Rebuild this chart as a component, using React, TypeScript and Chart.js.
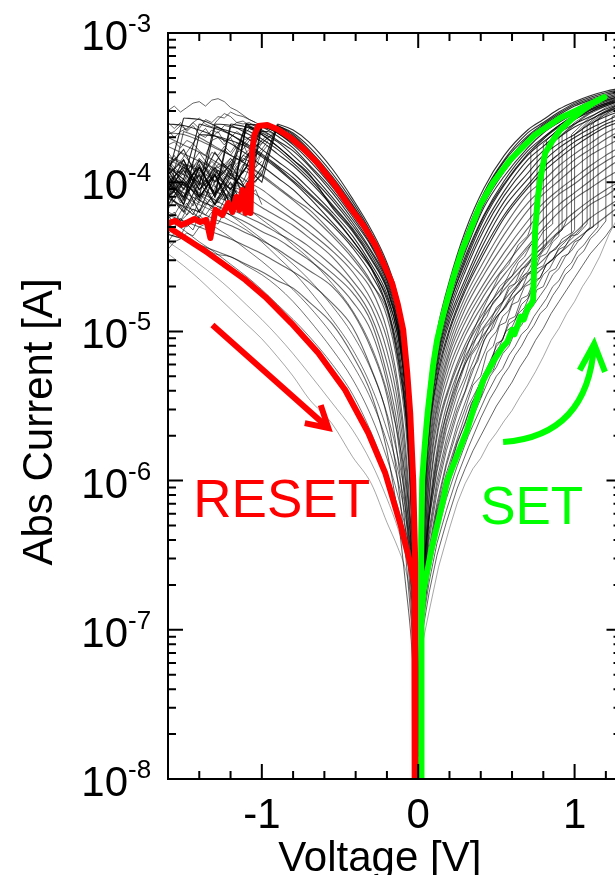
import React, { useEffect, useRef } from "react";
import { Chart, registerables } from "chart.js";

Chart.register(...registerables);

// ---------- axes ----------
const voltageMin = -1.6;
const voltageMax = 1.3;
const currentMin = 1e-8;
const currentMax = 1e-3;
const voltageTickLabels = [-1, 0, 1];
const voltageMinorTicks = [-1.4, -1.2, -0.8, -0.6, -0.4, -0.2, 0.2, 0.4, 0.6, 0.8, 1.2];
const currentDecades = [-3, -4, -5, -6, -7, -8];

// ---------- data: log10 of |I| (A) ----------
// RESET side, common voltage grid (V)
const resetGrid = [-1.6, -1.5, -1.4, -1.3, -1.2, -1.1, -1.0, -0.9, -0.8, -0.7, -0.55, -0.42, -0.3, -0.2, -0.13, -0.08, -0.05, -0.03, -0.015, -0.004];

// low-resistance-state sweeps up to reset, then noisy (darkest first)
const resetLrsCurves: number[][] = [
  [-4.08, -4.2, -4.0, -4.15, -3.95, -4.05, -3.9, -3.61, -3.65, -3.73, -3.91, -4.11, -4.32, -4.54, -4.77, -5.1, -5.48, -5.97, -6.65, -7.45],
  [-4.15, -4.0, -4.1, -3.95, -4.05, -3.9, -4.0, -3.62, -3.67, -3.76, -3.94, -4.13, -4.34, -4.56, -4.79, -5.13, -5.5, -6.0, -6.68, -7.47],
  [-3.92, -4.1, -3.85, -4.0, -3.88, -4.05, -3.95, -3.62, -3.68, -3.78, -3.96, -4.15, -4.35, -4.57, -4.81, -5.15, -5.52, -6.03, -6.7, -7.47],
  [-4.0, -4.1, -3.95, -4.15, -4.0, -4.2, -3.62, -3.63, -3.69, -3.79, -3.97, -4.16, -4.36, -4.58, -4.82, -5.17, -5.53, -6.04, -6.72, -7.48],
  [-3.86, -4.02, -3.9, -4.08, -3.92, -4.12, -3.61, -3.64, -3.72, -3.81, -3.99, -4.18, -4.37, -4.59, -4.83, -5.18, -5.56, -6.06, -6.74, -7.49],
  [-4.1, -3.98, -4.12, -3.92, -4.05, -3.9, -3.63, -3.66, -3.72, -3.82, -4.0, -4.19, -4.38, -4.6, -4.84, -5.2, -5.57, -6.08, -6.75, -7.5],
  [-4.0, -3.9, -4.05, -3.95, -4.2, -3.61, -3.62, -3.67, -3.74, -3.83, -4.02, -4.2, -4.39, -4.61, -4.85, -5.21, -5.59, -6.1, -6.77, -7.51],
  [-3.95, -3.85, -4.05, -3.9, -4.1, -3.85, -3.62, -3.67, -3.75, -3.85, -4.03, -4.21, -4.4, -4.62, -4.87, -5.23, -5.61, -6.12, -6.78, -7.52],
  [-3.9, -4.05, -3.88, -4.1, -3.9, -3.61, -3.63, -3.69, -3.77, -3.88, -4.05, -4.23, -4.42, -4.63, -4.88, -5.25, -5.64, -6.16, -6.79, -7.53],
  [-4.1, -4.0, -4.2, -3.95, -4.15, -3.63, -3.65, -3.72, -3.79, -3.89, -4.07, -4.25, -4.43, -4.65, -4.9, -5.28, -5.67, -6.17, -6.83, -7.55],
  [-4.05, -3.92, -4.1, -3.95, -4.15, -3.62, -3.67, -3.73, -3.82, -3.92, -4.1, -4.27, -4.46, -4.66, -4.93, -5.3, -5.71, -6.23, -6.84, -7.55],
  [-3.95, -4.12, -3.9, -4.08, -3.61, -3.63, -3.68, -3.76, -3.85, -3.95, -4.12, -4.29, -4.47, -4.68, -4.95, -5.33, -5.75, -6.27, -6.86, -7.56],
  [-3.95, -4.15, -3.9, -4.1, -3.63, -3.65, -3.71, -3.78, -3.87, -3.97, -4.15, -4.31, -4.49, -4.7, -4.97, -5.36, -5.78, -6.29, -6.88, -7.57],
  [-4.1, -3.88, -4.02, -3.61, -3.62, -3.67, -3.73, -3.81, -3.89, -3.99, -4.16, -4.32, -4.51, -4.71, -4.98, -5.38, -5.81, -6.33, -6.9, -7.58],
  [-3.9, -3.78, -4.0, -3.8, -3.95, -3.61, -3.68, -3.76, -3.85, -3.94, -4.17, -4.33, -4.52, -4.72, -4.99, -5.39, -5.83, -6.35, -6.89, -7.59],
  [-4.0, -4.15, -3.68, -3.69, -3.72, -3.76, -3.83, -3.91, -4.0, -4.1, -4.27, -4.42, -4.58, -4.77, -5.02, -5.4, -5.84, -6.35, -6.9, -7.59],
  [-4.05, -3.85, -4.1, -3.63, -3.66, -3.7, -3.78, -3.86, -3.94, -4.04, -4.2, -4.36, -4.55, -4.75, -5.03, -5.42, -5.88, -6.4, -6.94, -7.6],
  [-3.9, -3.98, -3.61, -3.64, -3.68, -3.75, -3.82, -3.9, -3.99, -4.08, -4.23, -4.39, -4.57, -4.79, -5.08, -5.48, -5.93, -6.45, -6.97, -7.62],
  [-3.95, -3.57, -3.58, -3.62, -3.68, -3.74, -3.81, -3.89, -3.97, -4.07, -4.22, -4.39, -4.58, -4.83, -5.13, -5.52, -5.98, -6.5, -7.0, -7.65],
  [-3.61, -3.62, -3.65, -3.69, -3.74, -3.81, -3.89, -3.97, -4.05, -4.15, -4.29, -4.44, -4.62, -4.84, -5.17, -5.55, -6.01, -6.53, -7.02, -7.65],
  [-3.67, -3.68, -3.72, -3.77, -3.82, -3.88, -3.96, -4.04, -4.12, -4.21, -4.36, -4.51, -4.68, -4.86, -5.19, -5.57, -6.05, -6.56, -7.04, -7.7],
  [-4.1, -3.66, -3.7, -3.76, -3.82, -3.88, -3.95, -4.03, -4.11, -4.18, -4.34, -4.49, -4.67, -4.9, -5.23, -5.64, -6.1, -6.62, -7.09, -7.7],
  [-3.7, -3.75, -3.8, -3.86, -3.92, -3.99, -4.05, -4.13, -4.21, -4.28, -4.42, -4.56, -4.72, -4.99, -5.35, -5.78, -6.25, -6.73, -7.15, -7.78],
  [-3.76, -3.81, -3.86, -3.91, -3.97, -4.04, -4.11, -4.18, -4.25, -4.33, -4.46, -4.6, -4.79, -5.05, -5.4, -5.85, -6.34, -6.79, -7.2, -7.8],
  [-3.83, -3.88, -3.92, -3.99, -4.04, -4.1, -4.17, -4.23, -4.29, -4.37, -4.5, -4.66, -4.84, -5.13, -5.48, -5.94, -6.4, -6.85, -7.25, -7.85],
  [-3.9, -3.95, -4.0, -4.06, -4.11, -4.18, -4.23, -4.29, -4.36, -4.43, -4.56, -4.7, -4.9, -5.21, -5.56, -6.04, -6.52, -6.91, -7.3, -7.85],
  [-3.98, -4.02, -4.07, -4.12, -4.18, -4.23, -4.28, -4.34, -4.4, -4.48, -4.61, -4.74, -4.94, -5.29, -5.65, -6.14, -6.6, -6.96, -7.37, -7.9],
  [-4.02, -4.07, -4.12, -4.17, -4.22, -4.27, -4.33, -4.38, -4.45, -4.52, -4.65, -4.8, -5.0, -5.34, -5.72, -6.21, -6.67, -7.0, -7.4, -7.9],
  [-4.11, -4.16, -4.2, -4.25, -4.29, -4.34, -4.39, -4.45, -4.52, -4.59, -4.7, -4.87, -5.12, -5.43, -5.85, -6.35, -6.77, -7.1, -7.45, -7.9],
  [-4.22, -4.26, -4.3, -4.34, -4.38, -4.43, -4.48, -4.54, -4.6, -4.67, -4.81, -4.97, -5.25, -5.57, -6.01, -6.5, -6.87, -7.16, -7.52, -8.0],
  [-4.35, -4.38, -4.42, -4.46, -4.5, -4.55, -4.6, -4.66, -4.71, -4.8, -4.95, -5.16, -5.42, -5.8, -6.24, -6.7, -7.0, -7.3, -7.6, -8.1],
];

// high-resistance-state return sweeps (faintest first)
const resetHrsCurves: number[][] = [
  [-4.48, -4.56, -4.65, -4.75, -4.85, -4.95, -5.05, -5.17, -5.3, -5.45, -5.62, -5.84, -6.02, -6.28, -6.45, -6.6, -6.75, -6.85, -7.0, -7.4],
  [-4.4, -4.47, -4.55, -4.63, -4.72, -4.82, -4.92, -5.03, -5.15, -5.28, -5.48, -5.66, -5.88, -6.12, -6.32, -6.5, -6.65, -6.78, -6.95, -7.4],
  [-4.25, -4.32, -4.4, -4.47, -4.55, -4.63, -4.72, -4.82, -4.92, -5.03, -5.22, -5.42, -5.68, -5.95, -6.18, -6.38, -6.55, -6.7, -6.9, -7.4],
  [-4.35, -4.38, -4.42, -4.48, -4.5, -4.56, -4.62, -4.7, -4.8, -4.92, -5.12, -5.32, -5.57, -5.85, -6.1, -6.33, -6.5, -6.66, -6.88, -7.4],
  [-4.1, -4.17, -4.24, -4.3, -4.37, -4.45, -4.53, -4.62, -4.72, -4.83, -5.02, -5.22, -5.46, -5.74, -6.0, -6.25, -6.45, -6.62, -6.85, -7.4],
  [-4.05, -4.1, -4.15, -4.2, -4.26, -4.32, -4.4, -4.5, -4.6, -4.72, -4.92, -5.12, -5.37, -5.66, -5.93, -6.2, -6.42, -6.6, -6.83, -7.4],
  [-3.95, -4.02, -4.08, -4.15, -4.22, -4.3, -4.38, -4.46, -4.55, -4.65, -4.83, -5.02, -5.26, -5.55, -5.84, -6.12, -6.36, -6.56, -6.8, -7.4],
  [-3.85, -3.9, -3.97, -4.03, -4.1, -4.17, -4.25, -4.33, -4.42, -4.51, -4.68, -4.86, -5.1, -5.4, -5.7, -6.0, -6.27, -6.5, -6.76, -7.4],
];

// noisy currents after reset
const cloudGrid = [-1.6, -1.56, -1.52, -1.48, -1.44, -1.4, -1.36, -1.32, -1.28, -1.24, -1.2, -1.16, -1.12, -1.08, -1.04, -1.0, -0.96, -0.92];
const cloudCurves: (number | null)[][] = [
  [-3.52, -3.49, -3.53, -3.5, -3.47, -3.46, -3.49, -3.45, -3.44, -3.46, -3.5, -3.52, -3.55, -3.58, -3.6, -3.62, -3.64, -3.66],
  [-3.68, -3.66, -3.62, -3.65, -3.6, -3.57, -3.61, -3.63, -3.58, -3.54, -3.56, -3.6, -3.59, -3.62, -3.64, null, null, null],
  [-3.9, -3.84, -3.86, -3.8, -3.74, -3.79, -3.82, -3.72, -3.7, -3.75, -3.7, -3.66, -3.69, -3.64, -3.66, -3.65, null, null],
  [-4.05, -3.97, -4.02, -4.06, -3.94, -3.9, -3.96, -3.9, -3.84, -3.88, -3.92, -3.8, -3.78, -3.72, -3.7, null, null, null],
  [-4.15, -4.12, -4.05, -4.1, -4.16, -4.02, -3.98, -4.04, -3.95, -3.92, -3.98, -3.9, -3.94, -3.85, -3.9, -3.8, -3.75, null],
  [-4.3, -4.24, -4.26, -4.18, -4.22, -4.12, -4.15, -4.1, -4.06, -4.12, -4.04, -3.96, -4.0, -3.9, null, null, null, null],
  [-3.8, -3.86, -3.8, -3.84, -3.9, -3.86, -3.92, -3.98, -3.92, -3.96, -4.02, -4.0, -4.06, -4.1, -4.05, -4.15, null, null],
  [-4.0, -4.06, -3.98, -4.02, -3.94, -3.96, -3.9, -3.94, -3.88, -3.9, -3.84, -3.88, -3.82, -3.84, -3.77, -3.72, -3.68, null],
  [-4.4, -4.34, -4.36, -4.28, -4.32, -4.22, -4.26, -4.2, -4.16, -4.18, -4.12, -4.05, null, null, null, null, null, null],
  [-3.6, -3.64, -3.6, -3.66, -3.62, -3.68, -3.64, -3.7, -3.66, -3.73, -3.7, -3.78, -3.74, -3.84, null, null, null, null],
  [-4.2, -4.22, -4.15, -4.18, -4.1, -4.14, -4.06, -4.08, -4.0, -4.04, -3.97, -3.99, -3.92, -3.94, -3.86, -3.8, null, null],
  [-3.75, -3.73, -3.77, -3.72, -3.74, -3.68, -3.7, -3.65, -3.67, -3.62, -3.63, -3.6, -3.61, -3.6, -3.63, -3.66, -3.68, null],
  [-4.1, -4.04, -4.08, -4.0, -3.98, -3.96, -4.02, -3.92, -3.9, -3.88, -3.92, -3.84, -3.86, -3.8, -3.8, -3.74, -3.7, -3.68],
  [-3.65, -3.7, -3.66, -3.64, -3.6, -3.64, -3.58, -3.6, -3.56, -3.57, -3.53, -3.55, -3.56, -3.58, -3.6, null, null, null],
  [-4.25, -4.2, -4.26, -4.22, -4.18, -4.2, -4.14, -4.16, -4.1, -4.12, -4.06, -4.04, -4.06, -3.98, -4.0, -3.92, null, null],
  [-3.95, -3.9, -3.94, -3.88, -3.9, -3.84, -3.88, -3.8, -3.82, -3.76, -3.8, -3.74, -3.75, -3.7, -3.7, -3.66, -3.66, -3.68],
  [-4.45, -4.4, -4.38, -4.34, -4.36, -4.3, -4.28, -4.26, -4.28, -4.2, -4.22, null, null, null, null, null, null, null],
  [-3.85, -3.9, -3.86, -3.92, -3.88, -3.94, -3.9, -3.96, -3.92, -3.98, -3.94, -3.96, -3.88, -3.9, -3.82, -3.78, -3.72, null],
  [-3.98, -4.04, -3.96, -3.92, -4.0, -3.94, -3.86, -3.9, -3.96, -3.88, -3.84, -3.9, -3.82, -3.78, -3.76, -3.72, null, null],
  [-4.12, -4.06, -4.14, -4.08, -4.02, -4.1, -4.04, -3.98, -4.06, -4.0, -3.94, -4.0, -3.92, -3.88, null, null, null, null],
  [-4.22, -4.28, -4.2, -4.14, -4.2, -4.24, -4.16, -4.1, -4.14, -4.08, -4.12, -4.02, -4.06, -3.98, -3.94, null, null, null],
  [-3.88, -3.82, -3.9, -3.94, -3.86, -3.8, -3.86, -3.92, -3.84, -3.78, -3.82, -3.76, -3.72, -3.7, -3.68, -3.66, -3.66, null],
  [-4.35, -4.3, -4.24, -4.3, -4.26, -4.18, -4.22, -4.16, -4.2, -4.12, -4.08, -4.14, -4.04, null, null, null, null, null],
  [-4.02, -3.96, -3.92, -3.98, -4.04, -3.98, -3.92, -3.86, -3.9, -3.94, -3.86, -3.82, -3.86, -3.8, -3.76, -3.74, -3.7, -3.67],
  [-3.92, -3.98, -4.04, -3.96, -3.9, -3.95, -4.0, -3.94, -3.98, -3.9, -3.86, -3.92, -3.84, -3.86, -3.8, null, null, null],
  [-4.18, -4.12, -4.16, -4.22, -4.14, -4.08, -4.12, -4.18, -4.1, -4.04, -4.08, -4.0, -4.02, -3.96, -3.9, -3.86, null, null],
];

// SET side, common voltage grid (V) for LRS return sweeps
const setGrid = [0.004, 0.015, 0.03, 0.05, 0.08, 0.13, 0.2, 0.3, 0.42, 0.55, 0.7, 0.8, 0.9, 1.0, 1.1, 1.2, 1.3];
const setLrsCurves: number[][] = [
  [-7.46, -6.52, -5.93, -5.56, -5.26, -4.95, -4.66, -4.33, -4.04, -3.82, -3.65, -3.58, -3.51, -3.46, -3.42, -3.39, -3.37],
  [-7.47, -6.55, -5.95, -5.58, -5.28, -4.97, -4.68, -4.36, -4.07, -3.85, -3.67, -3.6, -3.53, -3.47, -3.43, -3.4, -3.38],
  [-7.48, -6.56, -5.97, -5.59, -5.3, -4.99, -4.69, -4.38, -4.08, -3.86, -3.69, -3.61, -3.54, -3.48, -3.44, -3.41, -3.39],
  [-7.49, -6.58, -5.98, -5.6, -5.31, -5.0, -4.71, -4.4, -4.1, -3.89, -3.7, -3.62, -3.55, -3.49, -3.45, -3.42, -3.39],
  [-7.5, -6.6, -6.0, -5.62, -5.33, -5.02, -4.73, -4.42, -4.12, -3.9, -3.72, -3.63, -3.57, -3.51, -3.46, -3.43, -3.4],
  [-7.51, -6.63, -6.03, -5.64, -5.35, -5.04, -4.75, -4.45, -4.15, -3.93, -3.74, -3.65, -3.59, -3.53, -3.48, -3.44, -3.41],
  [-7.52, -6.66, -6.05, -5.66, -5.37, -5.06, -4.77, -4.47, -4.17, -3.96, -3.77, -3.67, -3.6, -3.54, -3.49, -3.45, -3.42],
  [-7.54, -6.7, -6.07, -5.69, -5.39, -5.07, -4.79, -4.5, -4.22, -3.99, -3.79, -3.7, -3.62, -3.56, -3.51, -3.47, -3.43],
  [-7.55, -6.73, -6.1, -5.72, -5.41, -5.09, -4.82, -4.52, -4.23, -4.01, -3.81, -3.71, -3.63, -3.58, -3.52, -3.48, -3.45],
  [-7.55, -6.75, -6.1, -5.72, -5.42, -5.1, -4.82, -4.54, -4.25, -4.02, -3.82, -3.73, -3.65, -3.58, -3.53, -3.49, -3.45],
  [-7.57, -6.8, -6.15, -5.75, -5.44, -5.13, -4.85, -4.57, -4.29, -4.06, -3.85, -3.76, -3.67, -3.61, -3.56, -3.51, -3.47],
  [-7.58, -6.82, -6.19, -5.78, -5.47, -5.15, -4.88, -4.6, -4.32, -4.09, -3.89, -3.79, -3.7, -3.63, -3.58, -3.53, -3.49],
  [-7.6, -6.88, -6.25, -5.82, -5.5, -5.18, -4.91, -4.65, -4.37, -4.13, -3.94, -3.82, -3.74, -3.68, -3.61, -3.56, -3.52],
  [-7.62, -6.9, -6.28, -5.86, -5.53, -5.21, -4.94, -4.68, -4.41, -4.17, -3.98, -3.86, -3.77, -3.7, -3.64, -3.59, -3.54],
  [-7.63, -6.93, -6.32, -5.9, -5.57, -5.25, -4.98, -4.71, -4.45, -4.22, -4.02, -3.9, -3.81, -3.73, -3.67, -3.61, -3.57],
  [-7.65, -6.95, -6.35, -5.92, -5.58, -5.28, -5.0, -4.73, -4.48, -4.24, -4.04, -3.93, -3.84, -3.76, -3.69, -3.63, -3.59],
  [-7.67, -7.0, -6.4, -5.97, -5.62, -5.32, -5.04, -4.77, -4.53, -4.3, -4.08, -3.99, -3.89, -3.81, -3.74, -3.67, -3.62],
  [-7.7, -7.02, -6.46, -6.02, -5.67, -5.36, -5.08, -4.81, -4.58, -4.35, -4.14, -4.04, -3.94, -3.85, -3.78, -3.71, -3.65],
  [-7.72, -7.08, -6.52, -6.06, -5.71, -5.4, -5.12, -4.85, -4.62, -4.41, -4.19, -4.08, -3.99, -3.9, -3.82, -3.76, -3.7],
  [-7.75, -7.12, -6.58, -6.13, -5.76, -5.44, -5.15, -4.9, -4.68, -4.47, -4.26, -4.14, -4.05, -3.97, -3.89, -3.82, -3.76],
  [-7.76, -7.15, -6.63, -6.17, -5.8, -5.47, -5.19, -4.94, -4.72, -4.52, -4.31, -4.18, -4.08, -4.01, -3.93, -3.86, -3.8],
  [-7.78, -7.2, -6.7, -6.26, -5.86, -5.51, -5.24, -4.99, -4.76, -4.57, -4.37, -4.25, -4.15, -4.07, -3.99, -3.91, -3.84],
  [-7.8, -7.25, -6.78, -6.3, -5.9, -5.56, -5.29, -5.03, -4.81, -4.62, -4.43, -4.31, -4.2, -4.11, -4.04, -3.97, -3.91],
  [-7.85, -7.32, -6.85, -6.38, -5.98, -5.62, -5.36, -5.09, -4.87, -4.69, -4.51, -4.4, -4.29, -4.2, -4.12, -4.05, -3.99],
  [-7.85, -7.34, -6.88, -6.42, -6.01, -5.65, -5.38, -5.12, -4.9, -4.72, -4.54, -4.43, -4.33, -4.24, -4.15, -4.09, -4.02],
  [-7.9, -7.4, -6.95, -6.5, -6.1, -5.73, -5.43, -5.17, -4.97, -4.79, -4.62, -4.52, -4.42, -4.34, -4.24, -4.17, -4.1],
  [-7.9, -7.45, -7.0, -6.57, -6.15, -5.77, -5.49, -5.22, -5.02, -4.84, -4.67, -4.57, -4.48, -4.39, -4.31, -4.23, -4.15],
];

// SET sweeps as (V, log10 I) pairs: HRS rise, abrupt set, LRS
const setHrsCurves: number[][] = [
  [0.004, -7.3, 0.03, -6.6, 0.07, -6.2, 0.12, -5.85, 0.18, -5.55, 0.25, -5.3, 0.32, -5.08, 0.4, -4.88, 0.46, -4.75, 0.52, -4.62, 0.58, -4.55, 0.64, -4.42, 0.7, -4.36, 0.72, -4.3, 0.72, -3.8, 0.8, -3.7, 0.9, -3.62, 1.0, -3.55, 1.1, -3.5, 1.2, -3.46, 1.3, -3.43],
  [0.004, -7.3, 0.03, -6.62, 0.07, -6.22, 0.12, -5.88, 0.18, -5.6, 0.25, -5.35, 0.3, -5.2, 0.35, -5.06, 0.4, -4.94, 0.44, -4.84, 0.48, -4.78, 0.52, -4.7, 0.56, -4.66, 0.6, -4.58, 0.64, -4.52, 0.68, -4.47, 0.72, -4.42, 0.76, -4.38, 0.76, -3.76, 0.85, -3.66, 0.95, -3.58, 1.05, -3.52, 1.15, -3.47, 1.3, -3.42],
  [0.004, -7.32, 0.03, -6.64, 0.07, -6.26, 0.12, -5.94, 0.18, -5.66, 0.25, -5.42, 0.3, -5.3, 0.34, -5.16, 0.38, -5.1, 0.42, -4.98, 0.46, -4.94, 0.5, -4.84, 0.54, -4.8, 0.58, -4.7, 0.62, -4.68, 0.66, -4.58, 0.7, -4.56, 0.74, -4.48, 0.8, -4.44, 0.8, -3.74, 0.88, -3.66, 1.0, -3.57, 1.15, -3.49, 1.3, -3.44],
  [0.004, -7.35, 0.03, -6.7, 0.07, -6.33, 0.12, -6.0, 0.18, -5.72, 0.25, -5.48, 0.32, -5.28, 0.4, -5.08, 0.46, -4.95, 0.52, -4.85, 0.58, -4.72, 0.64, -4.66, 0.7, -4.55, 0.76, -4.5, 0.82, -4.42, 0.82, -3.72, 0.9, -3.64, 1.0, -3.56, 1.1, -3.5, 1.2, -3.46, 1.3, -3.42],
  [0.004, -7.35, 0.03, -6.65, 0.07, -6.25, 0.12, -5.92, 0.18, -5.62, 0.25, -5.38, 0.3, -5.22, 0.35, -5.1, 0.4, -4.96, 0.44, -4.9, 0.48, -4.8, 0.52, -4.76, 0.56, -4.66, 0.6, -4.63, 0.64, -4.54, 0.68, -4.5, 0.72, -4.42, 0.76, -4.4, 0.8, -4.33, 0.86, -4.28, 0.86, -3.7, 0.95, -3.61, 1.05, -3.54, 1.15, -3.49, 1.3, -3.44],
  [0.004, -7.4, 0.03, -6.8, 0.07, -6.45, 0.12, -6.15, 0.18, -5.88, 0.25, -5.62, 0.32, -5.42, 0.4, -5.2, 0.46, -5.05, 0.5, -5.0, 0.54, -4.9, 0.58, -4.86, 0.62, -4.76, 0.66, -4.72, 0.7, -4.62, 0.74, -4.6, 0.78, -4.5, 0.82, -4.48, 0.86, -4.4, 0.9, -4.36, 0.9, -3.7, 1.0, -3.6, 1.1, -3.53, 1.2, -3.48, 1.3, -3.45],
  [0.004, -7.38, 0.03, -6.72, 0.07, -6.36, 0.12, -6.04, 0.18, -5.76, 0.25, -5.52, 0.3, -5.4, 0.34, -5.26, 0.38, -5.2, 0.42, -5.06, 0.46, -5.0, 0.5, -4.9, 0.54, -4.86, 0.58, -4.78, 0.62, -4.72, 0.66, -4.64, 0.7, -4.6, 0.74, -4.52, 0.78, -4.48, 0.82, -4.42, 0.86, -4.38, 0.92, -4.32, 0.92, -3.68, 1.0, -3.61, 1.1, -3.54, 1.2, -3.49, 1.3, -3.45],
  [0.004, -7.4, 0.03, -6.75, 0.07, -6.4, 0.12, -6.08, 0.18, -5.8, 0.25, -5.55, 0.32, -5.35, 0.4, -5.12, 0.44, -5.02, 0.48, -4.98, 0.52, -4.88, 0.56, -4.84, 0.6, -4.75, 0.64, -4.7, 0.68, -4.62, 0.72, -4.6, 0.76, -4.52, 0.8, -4.46, 0.84, -4.42, 0.88, -4.35, 0.92, -4.32, 0.95, -4.25, 0.95, -3.66, 1.05, -3.57, 1.15, -3.5, 1.3, -3.44],
  [0.004, -7.42, 0.03, -6.8, 0.07, -6.48, 0.12, -6.18, 0.18, -5.9, 0.25, -5.66, 0.3, -5.52, 0.35, -5.36, 0.4, -5.3, 0.44, -5.14, 0.48, -5.1, 0.52, -4.96, 0.56, -4.94, 0.6, -4.82, 0.64, -4.8, 0.68, -4.7, 0.72, -4.68, 0.76, -4.58, 0.8, -4.56, 0.84, -4.47, 0.88, -4.45, 0.92, -4.38, 0.98, -4.34, 0.98, -3.68, 1.08, -3.58, 1.2, -3.5, 1.3, -3.46],
  [0.004, -7.45, 0.03, -6.88, 0.07, -6.55, 0.12, -6.25, 0.18, -6.0, 0.25, -5.75, 0.32, -5.55, 0.4, -5.33, 0.46, -5.2, 0.5, -5.1, 0.54, -5.05, 0.58, -4.95, 0.62, -4.92, 0.66, -4.82, 0.7, -4.78, 0.74, -4.68, 0.78, -4.64, 0.82, -4.55, 0.86, -4.52, 0.9, -4.44, 0.94, -4.4, 1.0, -4.32, 1.0, -3.68, 1.1, -3.58, 1.2, -3.52, 1.3, -3.47],
  [0.004, -7.45, 0.03, -6.85, 0.07, -6.5, 0.12, -6.2, 0.18, -5.95, 0.25, -5.72, 0.32, -5.5, 0.38, -5.38, 0.44, -5.25, 0.48, -5.16, 0.52, -5.1, 0.56, -5.0, 0.6, -4.97, 0.64, -4.88, 0.68, -4.84, 0.72, -4.74, 0.76, -4.7, 0.8, -4.62, 0.84, -4.58, 0.88, -4.5, 0.92, -4.46, 0.96, -4.4, 1.0, -4.36, 1.05, -4.3, 1.05, -3.64, 1.15, -3.55, 1.3, -3.47],
  [0.004, -7.46, 0.03, -6.86, 0.07, -6.52, 0.12, -6.22, 0.18, -5.98, 0.25, -5.74, 0.3, -5.62, 0.34, -5.48, 0.38, -5.42, 0.42, -5.28, 0.46, -5.24, 0.5, -5.08, 0.54, -5.06, 0.58, -4.92, 0.62, -4.9, 0.66, -4.78, 0.7, -4.76, 0.74, -4.66, 0.78, -4.64, 0.82, -4.55, 0.86, -4.52, 0.9, -4.45, 0.94, -4.43, 0.98, -4.36, 1.02, -4.35, 1.08, -4.28, 1.08, -3.62, 1.18, -3.54, 1.3, -3.47],
  [0.004, -7.45, 0.03, -6.9, 0.07, -6.6, 0.12, -6.32, 0.18, -6.08, 0.25, -5.85, 0.32, -5.65, 0.4, -5.45, 0.46, -5.3, 0.5, -5.24, 0.54, -5.15, 0.58, -5.1, 0.62, -5.0, 0.66, -4.96, 0.7, -4.88, 0.74, -4.82, 0.78, -4.76, 0.82, -4.7, 0.86, -4.62, 0.9, -4.58, 0.94, -4.5, 0.98, -4.46, 1.02, -4.4, 1.06, -4.35, 1.1, -4.3, 1.1, -3.62, 1.2, -3.54, 1.3, -3.48],
  [0.004, -7.48, 0.03, -6.9, 0.07, -6.58, 0.12, -6.28, 0.18, -6.04, 0.25, -5.8, 0.3, -5.66, 0.35, -5.52, 0.4, -5.44, 0.44, -5.3, 0.48, -5.26, 0.52, -5.14, 0.56, -5.1, 0.6, -4.98, 0.64, -4.95, 0.68, -4.85, 0.72, -4.82, 0.76, -4.72, 0.8, -4.7, 0.84, -4.6, 0.88, -4.58, 0.92, -4.5, 0.96, -4.48, 1.0, -4.4, 1.04, -4.38, 1.08, -4.32, 1.12, -4.3, 1.12, -3.6, 1.2, -3.53, 1.3, -3.48],
  [0.004, -7.5, 0.03, -6.92, 0.07, -6.62, 0.12, -6.36, 0.18, -6.12, 0.25, -5.9, 0.32, -5.7, 0.38, -5.56, 0.44, -5.42, 0.5, -5.3, 0.54, -5.25, 0.58, -5.16, 0.62, -5.1, 0.66, -5.02, 0.7, -4.98, 0.74, -4.9, 0.78, -4.84, 0.82, -4.78, 0.86, -4.7, 0.9, -4.66, 0.94, -4.58, 0.98, -4.54, 1.02, -4.46, 1.06, -4.42, 1.1, -4.36, 1.15, -4.3, 1.15, -3.58, 1.22, -3.53, 1.3, -3.49],
  [0.004, -7.5, 0.03, -6.95, 0.07, -6.68, 0.12, -6.42, 0.18, -6.2, 0.25, -5.97, 0.32, -5.78, 0.4, -5.58, 0.46, -5.45, 0.5, -5.38, 0.54, -5.3, 0.58, -5.24, 0.62, -5.16, 0.66, -5.1, 0.7, -5.02, 0.74, -4.96, 0.78, -4.88, 0.82, -4.84, 0.86, -4.76, 0.9, -4.7, 0.94, -4.62, 0.98, -4.58, 1.02, -4.5, 1.06, -4.46, 1.1, -4.38, 1.14, -4.34, 1.2, -4.26, 1.2, -3.55, 1.3, -3.5],
  [0.004, -7.52, 0.03, -7.0, 0.07, -6.75, 0.12, -6.5, 0.18, -6.28, 0.25, -6.05, 0.3, -5.92, 0.35, -5.8, 0.4, -5.7, 0.45, -5.6, 0.5, -5.5, 0.55, -5.42, 0.6, -5.34, 0.65, -5.24, 0.7, -5.16, 0.75, -5.06, 0.8, -4.98, 0.85, -4.88, 0.9, -4.8, 0.95, -4.72, 1.0, -4.64, 1.05, -4.56, 1.1, -4.48, 1.15, -4.42, 1.2, -4.36, 1.24, -4.3, 1.24, -3.56, 1.3, -3.53],
  [0.004, -7.55, 0.03, -7.08, 0.065, -6.9, 0.13, -6.58, 0.2, -6.32, 0.25, -6.15, 0.3, -6.02, 0.35, -5.92, 0.4, -5.85, 0.45, -5.75, 0.5, -5.68, 0.55, -5.6, 0.6, -5.53, 0.65, -5.44, 0.7, -5.36, 0.75, -5.27, 0.8, -5.17, 0.85, -5.06, 0.9, -4.98, 0.95, -4.88, 1.0, -4.8, 1.05, -4.7, 1.1, -4.62, 1.16, -4.5, 1.22, -4.35, 1.26, -4.27, 1.3, -4.2],
];

// highlighted cycles (V, log10 I) in sweep order
const resetCycle = [
  -0.019, -8.3, -0.019, -6.55, -0.032, -6.0, -0.051, -5.55, -0.07, -5.28, -0.096, -4.99, -0.13, -4.82, -0.166, -4.68, -0.22, -4.55,
  -0.275, -4.42, -0.35, -4.29, -0.435, -4.17, -0.54, -4.01, -0.645, -3.87, -0.73, -3.78, -0.818, -3.7, -0.9, -3.645, -0.965, -3.617,
  -1.022, -3.623, -1.048, -3.684, -1.061, -3.784, -1.073, -4.206, -1.086, -4.019, -1.105, -4.206, -1.125, -4.052, -1.144, -4.186,
  -1.163, -4.099, -1.188, -4.2, -1.214, -4.139, -1.252, -4.22, -1.297, -4.186, -1.329, -4.374, -1.355, -4.253, -1.393, -4.267,
  -1.431, -4.247, -1.47, -4.267, -1.514, -4.287, -1.553, -4.26, -1.597, -4.273, -1.6, -4.3, -1.35, -4.47, -1.105, -4.655,
  -0.978, -4.769, -0.812, -4.944, -0.639, -5.145, -0.467, -5.393, -0.319, -5.681, -0.211, -5.949, -0.109, -6.311, -0.045, -6.579,
  -0.025, -6.7, -0.022, -8.3,
];
const setCycle = [
  0.021, -8.3, 0.021, -6.95, 0.032, -6.75, 0.083, -6.47, 0.16, -6.13, 0.185, -6.0, 0.25, -5.83, 0.313, -5.66, 0.36, -5.5, 0.415, -5.33,
  0.48, -5.2, 0.543, -5.1, 0.57, -5.07, 0.6, -4.99, 0.615, -5.02, 0.633, -4.97, 0.655, -4.9, 0.675, -4.92, 0.703, -4.836, 0.72, -4.82,
  0.735, -4.79, 0.748, -4.32, 0.765, -4.1, 0.78, -3.985, 0.812, -3.804, 0.86, -3.72, 0.907, -3.65, 0.98, -3.58, 1.054, -3.516,
  1.12, -3.47, 1.19, -3.43, 1.05, -3.5, 0.907, -3.57, 0.75, -3.68, 0.588, -3.85, 0.48, -4.0, 0.396, -4.153, 0.33, -4.33, 0.281, -4.454,
  0.23, -4.62, 0.185, -4.789, 0.15, -4.93, 0.121, -5.058, 0.095, -5.23, 0.077, -5.393, 0.06, -5.55, 0.045, -5.728, 0.035, -5.86,
  0.026, -5.996, 0.019, -6.398, 0.019, -8.3,
];

// annotations in data coordinates (V, log10 I)
const resetLabel = { text: "RESET", v: -1.438, logI: -6.244 };
const setLabel = { text: "SET", v: 0.396, logI: -6.291 };
const resetArrow = { from: [-1.316, -4.957], to: [-0.575, -5.647] };
const setArrow = { from: [0.543, -5.741], ctrl: [1.086, -5.701], to: [1.125, -5.084] };

const FONT = "Arial, 'Liberation Sans', Helvetica, sans-serif";
const RED = "#ff0000";
const GREEN = "#00ff00";

type Pt = { x: number; y: number };

function gridPoints(grid: number[], logs: (number | null)[]) {
  const out: Pt[] = [];
  grid.forEach((v, i) => {
    const l = logs[i];
    if (l !== null && l !== undefined) out.push({ x: v, y: Math.pow(10, l) });
  });
  return out;
}
function pairPoints(flat: number[]) {
  const out: Pt[] = [];
  for (let i = 0; i < flat.length; i += 2) out.push({ x: flat[i], y: Math.pow(10, flat[i + 1]) });
  return out;
}

function drawArrowHead(ctx: CanvasRenderingContext2D, tip: [number, number], dir: [number, number], len: number, ang: number) {
  const back = Math.atan2(-dir[1], -dir[0]);
  ctx.beginPath();
  ctx.moveTo(tip[0] + len * Math.cos(back + ang), tip[1] + len * Math.sin(back + ang));
  ctx.lineTo(tip[0], tip[1]);
  ctx.lineTo(tip[0] + len * Math.cos(back - ang), tip[1] + len * Math.sin(back - ang));
  ctx.stroke();
}

const overlayPlugin = {
  id: "overlay",
  afterDatasetsDraw(chart: any) {
    const { ctx, chartArea: a, scales } = chart;
    const xs = scales.x;
    const ys = scales.y;
    const px = (v: number) => xs.getPixelForValue(v);
    const py = (l: number) => ys.getPixelForValue(Math.pow(10, l));
    ctx.save();

    // arrows
    ctx.lineCap = "butt";
    ctx.lineJoin = "miter";
    ctx.strokeStyle = RED;
    ctx.lineWidth = 6;
    const r0: [number, number] = [px(resetArrow.from[0]), py(resetArrow.from[1])];
    const r1: [number, number] = [px(resetArrow.to[0]), py(resetArrow.to[1])];
    ctx.beginPath();
    ctx.moveTo(r0[0], r0[1]);
    ctx.lineTo(r1[0], r1[1]);
    ctx.stroke();
    drawArrowHead(ctx, r1, [r1[0] - r0[0], r1[1] - r0[1]], 24, Math.PI / 6);

    ctx.strokeStyle = GREEN;
    const g0: [number, number] = [px(setArrow.from[0]), py(setArrow.from[1])];
    const gc: [number, number] = [px(setArrow.ctrl[0]), py(setArrow.ctrl[1])];
    const g1: [number, number] = [px(setArrow.to[0]), py(setArrow.to[1])];
    ctx.beginPath();
    ctx.moveTo(g0[0], g0[1]);
    ctx.quadraticCurveTo(gc[0], gc[1], g1[0], g1[1]);
    ctx.stroke();
    drawArrowHead(ctx, g1, [g1[0] - gc[0], g1[1] - gc[1]], 30, (25 * Math.PI) / 180);

    // labels
    ctx.font = `53px ${FONT}`;
    ctx.textAlign = "left";
    ctx.textBaseline = "alphabetic";
    ctx.fillStyle = RED;
    ctx.fillText(resetLabel.text, px(resetLabel.v), py(resetLabel.logI));
    ctx.fillStyle = GREEN;
    ctx.fillText(setLabel.text, px(setLabel.v), py(setLabel.logI));

    // frame
    ctx.strokeStyle = "#000";
    ctx.lineWidth = 2;
    ctx.strokeRect(a.left, a.top, a.right - a.left, a.bottom - a.top);

    // y ticks (both sides, inward)
    ctx.beginPath();
    currentDecades.forEach((e) => {
      const y = py(e);
      ctx.moveTo(a.left, y);
      ctx.lineTo(a.left + 15, y);
      ctx.moveTo(a.right, y);
      ctx.lineTo(a.right - 15, y);
      if (e > -8) {
        for (let k = 2; k <= 9; k++) {
          const ym = ys.getPixelForValue(k * Math.pow(10, e - 1));
          ctx.moveTo(a.left, ym);
          ctx.lineTo(a.left + 8, ym);
          ctx.moveTo(a.right, ym);
          ctx.lineTo(a.right - 8, ym);
        }
      }
    });
    // x ticks (bottom and top, inward)
    voltageTickLabels.forEach((v) => {
      const x = px(v);
      ctx.moveTo(x, a.bottom);
      ctx.lineTo(x, a.bottom - 15);
      ctx.moveTo(x, a.top);
      ctx.lineTo(x, a.top + 15);
    });
    voltageMinorTicks.forEach((v) => {
      const x = px(v);
      ctx.moveTo(x, a.bottom);
      ctx.lineTo(x, a.bottom - 8);
      ctx.moveTo(x, a.top);
      ctx.lineTo(x, a.top + 8);
    });
    ctx.stroke();

    // tick labels
    ctx.fillStyle = "#000";
    currentDecades.forEach((e) => {
      const y = py(e);
      ctx.font = `42px ${FONT}`;
      ctx.textAlign = "right";
      ctx.fillText("10", a.left - 40, y + 17);
      ctx.font = `26px ${FONT}`;
      ctx.textAlign = "left";
      ctx.fillText(String(e), a.left - 40, y - 1);
    });
    ctx.font = `42px ${FONT}`;
    ctx.textAlign = "center";
    voltageTickLabels.forEach((v) => {
      ctx.fillText(String(v), px(v), a.bottom + 49);
    });

    // axis titles
    ctx.font = `42px ${FONT}`;
    ctx.textAlign = "center";
    ctx.fillText("Voltage [V]", (a.left + a.right) / 2 - 15, a.bottom + 92);
    ctx.save();
    ctx.translate(a.left - 116, (a.top + a.bottom) / 2 + 16);
    ctx.rotate(-Math.PI / 2);
    ctx.fillText("Abs Current [A]", 0, 0);
    ctx.restore();

    ctx.restore();
  },
};

export default function App() {
  const canvasRef = useRef<HTMLCanvasElement | null>(null);

  useEffect(() => {
    if (!canvasRef.current) return;
    const line = (data: Pt[], color: string, width: number, smooth: boolean) => ({
      data,
      borderColor: color,
      borderWidth: width,
      pointRadius: 0,
      fill: false,
      cubicInterpolationMode: smooth ? "monotone" : "default",
      tension: 0,
    });

    const datasets: any[] = [
      {
        data: pairPoints(resetCycle),
        borderColor: RED,
        borderWidth: 6,
        pointRadius: 0,
        tension: 0,
        borderJoinStyle: "round",
        borderCapStyle: "round",
      },
      {
        data: pairPoints(setCycle),
        borderColor: GREEN,
        borderWidth: 6,
        pointRadius: 0,
        tension: 0,
        borderJoinStyle: "round",
        borderCapStyle: "round",
      },
    ];

    // each reset sweep: noisy part (left of its peak) drawn straight, smooth part monotone
    resetLrsCurves.forEach((c, i) => {
      const pts = gridPoints(resetGrid, c);
      let peak = 0;
      pts.forEach((p, k) => {
        if (p.y > pts[peak].y) peak = k;
      });
      const color = i < 20 ? "rgba(0,0,0,0.82)" : "rgba(0,0,0,0.6)";
      datasets.push(line(pts.slice(0, peak + 1), color, 1.1, false));
      datasets.push(line(pts.slice(peak), color, 1.1, true));
    });
    resetHrsCurves.forEach((c, i) =>
      datasets.push(line(gridPoints(resetGrid, c), i < 2 ? "rgba(0,0,0,0.35)" : "rgba(0,0,0,0.55)", 1, true))
    );
    cloudCurves.forEach((c) => datasets.push(line(gridPoints(cloudGrid, c), "rgba(0,0,0,0.6)", 1, false)));
    setLrsCurves.forEach((c, i) =>
      datasets.push(line(gridPoints(setGrid, c), i < 16 ? "rgba(0,0,0,0.82)" : "rgba(0,0,0,0.6)", 1.1, true))
    );
    setHrsCurves.forEach((c, i) =>
      datasets.push(line(pairPoints(c), i === setHrsCurves.length - 1 ? "rgba(0,0,0,0.35)" : "rgba(0,0,0,0.6)", 1, false))
    );

    const chart = new Chart(canvasRef.current, {
      type: "line",
      data: { datasets },
      options: {
        animation: false,
        responsive: false,
        maintainAspectRatio: false,
        devicePixelRatio: 1,
        events: [],
        layout: { padding: { left: 168, top: 33, right: 18.5, bottom: 96 } },
        scales: {
          x: { type: "linear", min: voltageMin, max: voltageMax, display: false },
          y: { type: "logarithmic", min: currentMin, max: currentMax, display: false },
        },
        plugins: { legend: { display: false }, tooltip: { enabled: false } },
      },
      plugins: [overlayPlugin],
    } as any);
    return () => chart.destroy();
  }, []);

  return (
    <div
      style={{
        position: "fixed",
        left: 0,
        top: 0,
        width: 615,
        height: 875,
        overflow: "hidden",
        background: "#fff",
      }}
    >
      <canvas ref={canvasRef} width={640} height={875} style={{ display: "block", width: 640, height: 875 }} />
    </div>
  );
}
